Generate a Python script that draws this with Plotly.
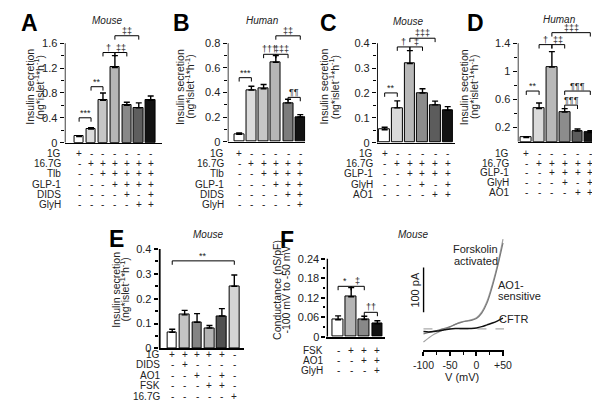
import plotly.graph_objects as go

W, H = 600, 401
FONT = "Liberation Sans Narrow, Liberation Sans, Arial, sans-serif"
FONT_W = "Liberation Sans, Arial, sans-serif"

# ---------------- data ----------------
A_vals = [0.10, 0.22, 0.68, 1.21, 0.60, 0.56, 0.68]
A_errs = [0.01, 0.02, 0.12, 0.19, 0.05, 0.08, 0.07]
A_rows = ["1G", "16.7G", "Tlb", "GLP-1", "DIDS", "GlyH"]
A_signs = ["+------", "-++++++", "--+++++", "---++++", "----+-+", "-----++"]
A_sig = [(0, 1, 0.40, "***"), (1, 2, 0.90, "**"), (2, 3, 1.45, "†"),
         (3, 4, 1.45, "‡‡"), (3, 5, 1.72, "‡‡")]

B_vals = [0.06, 0.42, 0.43, 0.645, 0.315, 0.20]
B_errs = [0.01, 0.03, 0.035, 0.055, 0.03, 0.02]
B_rows = ["1G", "16.7G", "Tlb", "GLP-1", "DIDS", "GlyH"]
B_signs = ["+-----", "-+++++", "--++++", "---+++", "----++", "-----+"]
B_sig = [(0, 1, 0.52, "***"), (2, 3, 0.71, "†††"), (3, 4, 0.71, "‡‡‡"),
         (3, 5, 0.86, "‡‡"), (4, 5, 0.36, "¶¶")]

C_vals = [0.052, 0.14, 0.318, 0.20, 0.152, 0.13]
C_errs = [0.010, 0.028, 0.052, 0.017, 0.015, 0.015]
C_rows = ["1G", "16.7G", "GLP-1", "GlyH", "AO1"]
C_signs = ["+-----", "-+++++", "--++++", "---+-+", "----++"]
C_sig = [(0, 1, 0.20, "**"), (1, 2, 0.385, "†"), (2, 3, 0.385, "‡"),
         (2, 4, 0.42, "‡‡‡")]

D_vals = [0.06, 0.47, 1.06, 0.42, 0.15, 0.13]
D_errs = [0.01, 0.08, 0.22, 0.05, 0.03, 0.025]
D_rows = ["1G", "16.7G", "GLP-1", "GlyH", "AO1"]
D_signs = ["+-----", "-+++++", "--++++", "---+-+", "----++"]
D_sig = [(0, 1, 0.72, "**"), (1, 2, 1.38, "†"), (2, 3, 1.38, "‡‡"),
         (2, 5, 1.55, "‡‡‡"), (3, 4, 0.52, "¶¶¶"), (3, 5, 0.72, "¶¶¶")]

E_vals = [0.065, 0.135, 0.105, 0.082, 0.13, 0.25]
E_errs = [0.012, 0.018, 0.035, 0.010, 0.030, 0.045]
E_rows = ["1G", "DIDS", "AO1", "FSK", "16.7G"]
E_signs = ["+++++-", "-+----", "--+-+-", "---++-", "-----+"]
E_sig = [(0, 5, 0.352, "**")]

F_vals = [0.052, 0.123, 0.053, 0.040]
F_errs = [0.012, 0.028, 0.010, 0.009]
F_rows = ["FSK", "AO1", "GlyH"]
F_signs = ["-+++", "--++", "---+"]
F_sig = [(0, 1, 0.155, "*"), (1, 2, 0.155, "‡"), (2, 3, 0.075, "††")]

# I-V curves (mV, pA)
IV_v = [-100, -90, -80, -70, -60, -50, -40, -30, -20, -10, 0, 10, 20, 30, 40, 50]
IV_fsk = [-29, -20, -12, -6, -1, 4, 10, 15, 18, 20, 25, 38, 62, 100, 145, 200]
IV_ao1 = [-11, -8, -5, -2, 1, 5, 10, 14, 17, 19, 23, 35, 58, 95, 140, 192]
IV_cftr = [-6, -7, -6, -4, -2, 0, 1, 1, 1, 1, 2, 5, 9, 13, 18, 24]
IV_ticks = [-100, -50, 0, 50]
IV_ticktext = ["-100", "-50", "0", "+50"]

# ---------------- layout config ----------------
GREYS6 = ["#ffffff", "#dadada", "#b8b8b8", "#8c8c8c", "#5c5c5c", "#121212"]
TITLE_INS = ["Insulin secretion", "(ng*islet<sup>-1</sup>*h<sup>-1</sup>)"]
panels = [
    dict(k="", vals=A_vals, errs=A_errs, rows=A_rows, signs=A_signs, sig=A_sig,
         colors=["#ffffff", "#dcdcdc", "#c6c6c6", "#b6b6b6", "#888888", "#5e5e5e", "#121212"],
         axpx=48, first=63, step=12.3, right=148, bw=0.8,
         zero=134, ttop=1.6, ttop_px=32, rtop=1.78,
         tv=[0, 0.4, 0.8, 1.2, 1.6], tt=["0", "0.4", "0.8", "1.2", "1.6"],
         mv=[0.2, 0.6, 1.0, 1.4], lw=1,
         rowy=[145, 155.5, 166, 176.5, 187, 197.5], labx=46,
         letter=("A", 12, 11), species=("Mouse", 92, 9),
         title=(TITLE_INS, 12, 21, 77)),
    dict(k="2", vals=B_vals, errs=B_errs, rows=B_rows, signs=B_signs, sig=B_sig,
         colors=["#ffffff", "#dcdcdc", "#c6c6c6", "#b6b6b6", "#7c7c7c", "#121212"],
         axpx=216, first=228, step=12.6, right=296, bw=0.82,
         zero=133, ttop=0.8, ttop_px=32, rtop=0.88,
         tv=[0, 0.2, 0.4, 0.6, 0.8], tt=["0", "0.2", "0.4", "0.6", "0.8"],
         mv=[0.1, 0.3, 0.5, 0.7], lw=1,
         rowy=[145, 155.5, 166, 176.5, 187, 197.5], labx=214,
         letter=("B", 169, 11), species=("Human", 252, 9),
         title=(TITLE_INS, 167, 176, 77)),
    dict(k="3", vals=C_vals, errs=C_errs, rows=C_rows, signs=C_signs, sig=C_sig,
         colors=GREYS6,
         axpx=370, first=378, step=13, right=450, bw=0.84,
         zero=134, ttop=0.4, ttop_px=32, rtop=0.44,
         tv=[0, 0.1, 0.2, 0.3, 0.4], tt=["0", "0.1", "0.2", "0.3", "0.4"],
         mv=[0.05, 0.15, 0.25, 0.35], lw=1,
         rowy=[145, 155.5, 166, 176.5, 187], labx=368,
         letter=("C", 320, 11), species=("Mouse", 402, 10),
         title=(TITLE_INS, 316, 325, 77)),
    dict(k="4", vals=D_vals, errs=D_errs, rows=D_rows, signs=D_signs, sig=D_sig,
         colors=GREYS6,
         axpx=515, first=524, step=13.2, right=598, bw=0.84,
         zero=133, ttop=1.4, ttop_px=32, rtop=1.6,
         tv=[0.2, 0.6, 1.0, 1.4], tt=["0.2", "0.6", "1", "1.4"],
         mv=[0.4, 0.8, 1.2], lw=1,
         rowy=[145, 155, 165, 175, 185], labx=508,
         letter=("D", 472, 11), species=("Human", 558, 8),
         title=(TITLE_INS, 460, 469, 77)),
    dict(k="5", vals=E_vals, errs=E_errs, rows=E_rows, signs=E_signs, sig=E_sig,
         colors=["#ffffff", "#c4c4c4", "#848484", "#b4b4b4", "#505050", "#d4d4d4"],
         axpx=145, first=159, step=12.8, right=233, bw=0.78,
         zero=345, ttop=0.4, ttop_px=243, rtop=0.41,
         tv=[0, 0.1, 0.2, 0.3, 0.4], tt=["0", "0.1", "0.2", "0.3", "0.4"],
         mv=[0.05, 0.15, 0.25, 0.35], lw=2,
         rowy=[351, 361.5, 372.5, 383.5, 394.5], labx=148,
         letter=("E", 102, 233), species=("Mouse", 196, 228),
         title=(TITLE_INS, 101, 110, 285)),
    dict(k="6", vals=F_vals, errs=F_errs, rows=F_rows, signs=F_signs, sig=F_sig,
         colors=["#ffffff", "#b4b4b4", "#888888", "#121212"],
         axpx=318, first=330, step=13.5, right=378, bw=0.82,
         zero=333, ttop=0.24, ttop_px=253, rtop=0.25,
         tv=[0, 0.06, 0.12, 0.18, 0.24], tt=["0", "0.06", "0.12", "0.18", "0.24"],
         mv=[0.03, 0.09, 0.15, 0.21], lw=1.6,
         rowy=[347, 357.5, 368], labx=317,
         letter=("F", 277, 234), species=("Mouse", 407, 228),
         title=(["Conductance (nS/pF)", "-100 mV to -50 mV"], 267, 276, 285)),
]

fig = go.Figure()
shapes = []
annots = []
TXT = "#222222"


def ay(p):
    return 1 - p / H


for P in panels:
    k = P["k"]
    xa, ya = "x" + k, "y" + k
    n = len(P["vals"])
    step = P["step"]
    xr = [(P["axpx"] - P["first"]) / step, (P["right"] - P["first"]) / step]
    ppu = (P["zero"] - P["ttop_px"]) / P["ttop"]
    ytop_px = P["zero"] - P["rtop"] * ppu
    fig.add_trace(go.Bar(
        x=list(range(n)), y=P["vals"], width=P["bw"],
        marker=dict(color=P["colors"], line=dict(color="black", width=1)),
        error_y=dict(type="data", symmetric=False, array=P["errs"], arrayminus=[0] * n,
                     color="black", thickness=1.4, width=3),
        xaxis=xa, yaxis=ya, showlegend=False, hoverinfo="skip"))
    fig.layout["xaxis" + k] = dict(
        domain=[P["axpx"] / W, P["right"] / W], range=xr, anchor=ya,
        showline=True, linecolor="black", linewidth=P["lw"], ticks="",
        showticklabels=False, showgrid=False, zeroline=False, fixedrange=True)
    fig.layout["yaxis" + k] = dict(
        domain=[ay(P["zero"]), ay(ytop_px)], range=[0, P["rtop"]], anchor=xa,
        showline=False, ticks="outside", ticklen=4, tickwidth=P["lw"], tickcolor="black",
        tickvals=P["tv"], ticktext=P["tt"],
        minor=dict(tickvals=P["mv"], ticks="outside", ticklen=2.5, tickwidth=P["lw"],
                   tickcolor="black"),
        tickfont=dict(family=FONT, size=11, color=TXT),
        showgrid=False, zeroline=False, fixedrange=True)
    # y axis line up to top tick
    xl = xr[0] + (P["lw"] / 2) / step
    shapes.append(dict(type="line", xref=xa, yref=ya, x0=xl, x1=xl, y0=0, y1=P["ttop"],
                       line=dict(color="black", width=P["lw"])))
    # significance brackets
    d = 4.0 / ppu
    for (i, j, yv, lab) in P["sig"]:
        shapes.append(dict(type="path", xref=xa, yref=ya,
                           path=f"M {i},{yv - d} L {i},{yv} L {j},{yv} L {j},{yv - d}",
                           line=dict(color="black", width=1)))
        annots.append(dict(x=(i + j) / 2, y=yv, xref=xa, yref=ya, text=lab, showarrow=False,
                           yanchor="bottom", yshift=-2,
                           font=dict(family=FONT_W, size=9, color=TXT)))
    # treatment rows
    for r, (name, sg) in enumerate(zip(P["rows"], P["signs"])):
        yy = ay(P["rowy"][r])
        annots.append(dict(x=P["labx"] / W, y=yy, xref="paper", yref="paper", text=name,
                           showarrow=False, xanchor="right", yanchor="middle",
                           font=dict(family=FONT, size=10, color=TXT)))
        for c, ch in enumerate(sg):
            annots.append(dict(x=c, y=yy, xref=xa, yref="paper", text=ch, showarrow=False,
                               xanchor="center", yanchor="middle",
                               font=dict(family=FONT_W, size=10, color=TXT)))
    # letter, species, title
    L, lx, lyy = P["letter"]
    annots.append(dict(x=lx / W, y=ay(lyy), xref="paper", yref="paper", text=f"<b>{L}</b>",
                       showarrow=False, xanchor="center", yanchor="middle",
                       font=dict(family=FONT_W, size=23, color="black")))
    S, sx, sy = P["species"]
    annots.append(dict(x=sx / W, y=ay(sy), xref="paper", yref="paper", text=f"<i>{S}</i>",
                       showarrow=False, xanchor="center", yanchor="middle",
                       font=dict(family=FONT_W, size=10, color=TXT)))
    lines, t1, t2, ty = P["title"]
    for txt, tx in zip(lines, (t1, t2)):
        annots.append(dict(x=tx / W, y=ay(ty), xref="paper", yref="paper", text=txt,
                           showarrow=False, xanchor="center", yanchor="middle", textangle=-90,
                           font=dict(family=FONT, size=10.5, color=TXT)))

# ---------------- I-V panel ----------------
mvpp = 150 / (500 - 418)          # mV per pixel
pa_pp = 100 / 46                  # pA per pixel
xr7 = [-101.5, 52]
yr7 = [-(347 - 325) * pa_pp, (325 - 222) * pa_pp]
fig.add_trace(go.Scatter(x=[-100, 52], y=[0, 0], mode="lines",
                         line=dict(color="#aaaaaa", width=1.2, dash="dash"),
                         xaxis="x7", yaxis="y7", showlegend=False, hoverinfo="skip"))
fig.add_trace(go.Scatter(x=IV_v, y=IV_fsk, mode="lines",
                         line=dict(color="#a0a0a0", width=1.2, shape="spline"),
                         xaxis="x7", yaxis="y7", showlegend=False, hoverinfo="skip"))
fig.add_trace(go.Scatter(x=IV_v, y=IV_ao1, mode="lines",
                         line=dict(color="#7a7a7a", width=1.2, shape="spline"),
                         xaxis="x7", yaxis="y7", showlegend=False, hoverinfo="skip"))
fig.add_trace(go.Scatter(x=IV_v, y=IV_cftr, mode="lines",
                         line=dict(color="#111111", width=1.5, shape="spline"),
                         xaxis="x7", yaxis="y7", showlegend=False, hoverinfo="skip"))
fig.layout["xaxis7"] = dict(
    domain=[(418 + (xr7[0] + 100) / mvpp) / W, (418 + (xr7[1] + 100) / mvpp) / W],
    range=xr7, anchor="y7", showline=True, linecolor="black", linewidth=1.6,
    ticks="outside", ticklen=4, tickwidth=1.6, tickcolor="black",
    tickvals=IV_ticks, ticktext=IV_ticktext,
    minor=dict(tickvals=[-75, -25, 25], ticks="outside", ticklen=2.5, tickwidth=1.4,
               tickcolor="black"),
    tickfont=dict(family=FONT, size=10.5, color=TXT),
    showgrid=False, zeroline=False, fixedrange=True)
fig.layout["yaxis7"] = dict(domain=[ay(347), ay(222)], range=yr7, anchor="x7", visible=False,
                            fixedrange=True)
shapes.append(dict(type="line", xref="x7", yref="y7", x0=-100, x1=-100, y0=37, y1=137,
                   line=dict(color="black", width=1.6)))
annots.append(dict(x=409 / W, y=ay(285), xref="paper", yref="paper", text="100 pA",
                   showarrow=False, xanchor="center", yanchor="middle", textangle=-90,
                   font=dict(family=FONT, size=11, color=TXT)))
annots.append(dict(x=458 / W, y=ay(374), xref="paper", yref="paper", text="V (mV)",
                   showarrow=False, xanchor="center", yanchor="middle",
                   font=dict(family=FONT, size=11, color=TXT)))
iv_labels = [("Forskolin", 472, 243, "center"), ("activated", 472, 255, "center"),
             ("AO1-", 493, 280, "left"), ("sensitive", 493, 291, "left"),
             ("CFTR", 494, 315, "left")]
for txt, px, py, anc in iv_labels:
    annots.append(dict(x=px / W, y=ay(py), xref="paper", yref="paper", text=txt,
                       showarrow=False, xanchor=anc, yanchor="middle",
                       font=dict(family=FONT, size=11, color=TXT)))

fig.update_layout(width=W, height=H, margin=dict(l=0, r=0, t=0, b=0),
                  paper_bgcolor="white", plot_bgcolor="rgba(0,0,0,0)",
                  shapes=shapes, annotations=annots, bargap=0)
fig.write_html("out.html")
